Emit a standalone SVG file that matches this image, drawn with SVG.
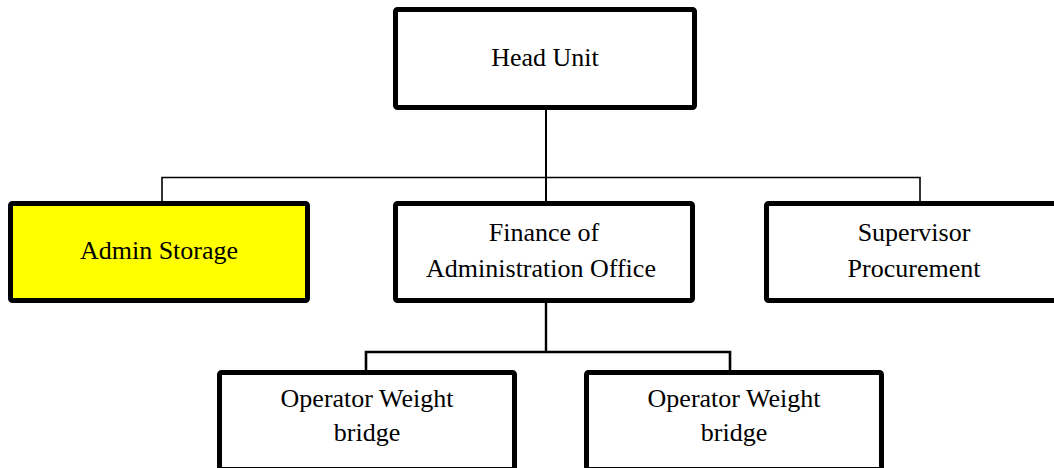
<svg xmlns="http://www.w3.org/2000/svg" width="1054" height="468" viewBox="0 0 1054 468">
<style>
.box{fill:#fff;stroke:#000;stroke-width:5}
.yel{fill:#ffff00}
.t{font-family:"Liberation Serif","Times New Roman",serif;font-size:26px;fill:#000;text-anchor:middle}
.c{stroke:#000;fill:none}
</style>
<rect width="1054" height="468" fill="#fff"/>
<g id="connectors">
<line class="c" x1="546" y1="108" x2="546" y2="202" stroke-width="2"/>
<polyline class="c" points="162,202 162,177.5 920,177.5 920,202" stroke-width="1.6"/>
<line class="c" x1="546" y1="302" x2="546" y2="352" stroke-width="2.4"/>
<polyline class="c" points="366,371 366,352 730,352 730,371" stroke-width="2.6"/>
</g>
<g id="head-unit">
<rect class="box" x="395.5" y="9.5" width="299" height="98" rx="2"/>
<text class="t" x="545" y="66">Head Unit</text>
</g>
<g id="admin-storage">
<rect class="box yel" x="10.5" y="203.5" width="297" height="97" rx="2"/>
<text class="t" x="159" y="259">Admin Storage</text>
</g>
<g id="finance">
<rect class="box" x="395.5" y="203.5" width="297" height="97" rx="2"/>
<text class="t" x="544" y="241">Finance of</text>
<text class="t" x="541" y="277">Administration Office</text>
</g>
<g id="supervisor">
<rect class="box" x="766.5" y="203.5" width="297" height="97" rx="2"/>
<text class="t" x="914" y="241">Supervisor</text>
<text class="t" x="914" y="277">Procurement</text>
</g>
<g id="operator-1">
<rect class="box" x="219.5" y="372.5" width="295" height="97" rx="2"/>
<text class="t" x="367" y="407">Operator Weight</text>
<text class="t" x="367" y="441">bridge</text>
</g>
<g id="operator-2">
<rect class="box" x="586.5" y="372.5" width="295" height="97" rx="2"/>
<text class="t" x="734" y="407">Operator Weight</text>
<text class="t" x="734" y="441">bridge</text>
</g>
</svg>
